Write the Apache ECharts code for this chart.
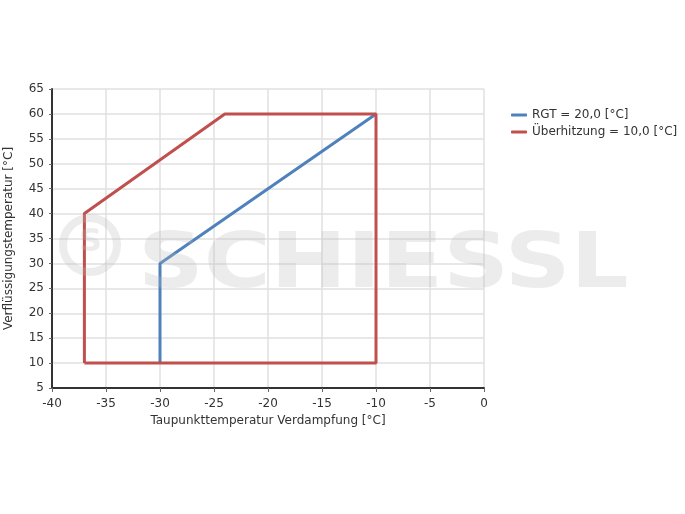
<!DOCTYPE html>
<html><head><meta charset="utf-8">
<script src="https://cdn.jsdelivr.net/npm/echarts@6/dist/echarts.min.js"></script>
<style>html,body{margin:0;padding:0;background:#fff}#c{width:685px;height:514px}</style>
</head><body><div id="c"></div>
<script>
const xTicks = [-40,-35,-30,-25,-20,-15,-10,-5,0];
const yTicks = [5,10,15,20,25,30,35,40,45,50,55,60,65];
const rgtName = 'RGT = 20,0 [°C]';
const rgtPoints = [[-30,10],[-30,30],[-10,60]];
const uebName = 'Überhitzung = 10,0 [°C]';
const uebPoints = [[-37,10],[-37,40],[-24,60],[-10,60],[-10,10],[-37,10]];

const chart = echarts.init(document.getElementById('c'));
const font = 'DejaVu Sans';
const wm = 'rgba(185,185,185,0.27)';
chart.setOption({
  animation:false,
  textStyle:{fontFamily:font},
  grid:{left:52,right:201,top:89,bottom:126,outerBoundsMode:'none',containLabel:false},
  legend:{orient:'vertical',left:506,top:104,itemWidth:16,itemHeight:3,itemGap:5,
    icon:'roundRect',textStyle:{fontSize:12,color:'#333',fontFamily:font},
    data:[rgtName,uebName]},
  graphic:[
    {type:'text',left:138,top:229,z:100,scaleX:1.2,
      style:{text:'SCHIESSL',fontSize:76,fontWeight:'bold',fill:wm,fontFamily:'DejaVu Sans'}},
    {type:'circle',shape:{cx:90,cy:245,r:27},z:100,style:{fill:'none',stroke:wm,lineWidth:8}},
    {type:'text',left:79,top:227,z:100,style:{text:'S',fontSize:32,fontWeight:'bold',fill:wm,fontFamily:'DejaVu Sans'}}
  ],
  xAxis:{type:'value',min:xTicks[0],max:xTicks[xTicks.length-1],interval:5,
    name:'Taupunkttemperatur Verdampfung [°C]',nameLocation:'middle',nameGap:27,
    nameTextStyle:{fontSize:12,color:'#333'},
    axisLine:{onZero:false,lineStyle:{color:'#333',width:2}},
    axisTick:{show:true,length:4,lineStyle:{color:'#666'}},
    axisLabel:{fontSize:12,color:'#333',margin:10},
    splitLine:{show:true,lineStyle:{color:'#e0e0e0',width:1.5}}},
  yAxis:{type:'value',min:yTicks[0],max:yTicks[yTicks.length-1],interval:5,
    name:'Verflüssigungstemperatur [°C]',nameLocation:'middle',nameGap:37,
    nameTextStyle:{fontSize:12,color:'#333'},
    axisLine:{show:true,onZero:false,lineStyle:{color:'#333',width:2}},
    axisTick:{show:true,length:3,lineStyle:{color:'#666'}},
    axisLabel:{fontSize:12,color:'#333',margin:8},
    splitLine:{show:true,lineStyle:{color:'#e0e0e0',width:1.5}}},
  series:[
    {name:rgtName,type:'line',data:rgtPoints,symbol:'none',lineStyle:{color:'#4f81bd',width:3},itemStyle:{color:'#4f81bd'}},
    {name:uebName,type:'line',data:uebPoints,symbol:'none',lineStyle:{color:'#c0504d',width:3},itemStyle:{color:'#c0504d'}}
  ]
});
</script></body></html>
